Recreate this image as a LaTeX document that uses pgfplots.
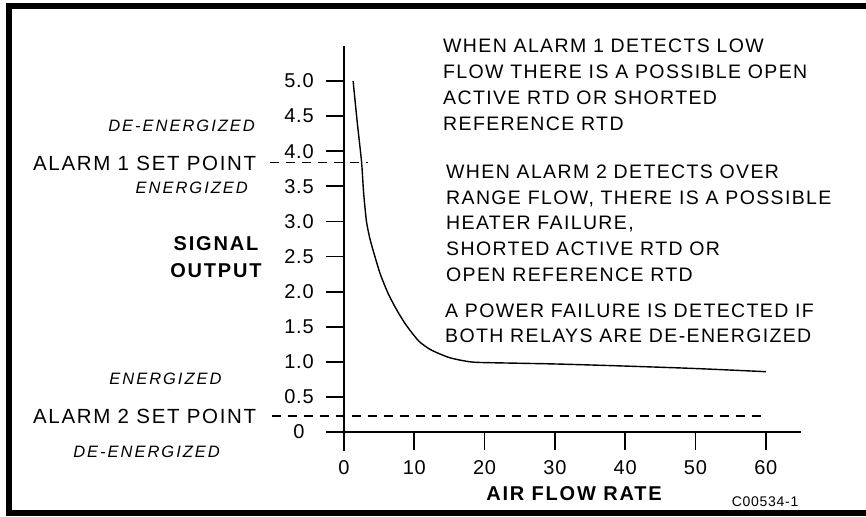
\documentclass[border=0pt]{standalone}
\usepackage{pgfplots}
\pgfplotsset{compat=1.18}
\usepackage{fontspec}
\setmainfont{Liberation Sans}
\newfontfamily\rgf[LetterSpace=7]{Liberation Sans}
\newfontfamily\alf[LetterSpace=8]{Liberation Sans}
\newfontfamily\itf[LetterSpace=12]{Liberation Sans}
\newfontfamily\bdf[LetterSpace=9]{Liberation Sans}
\newfontfamily\tkf[LetterSpace=4]{Liberation Sans}
\newfontfamily\smf[LetterSpace=5]{Liberation Sans}
\newcommand\RG{\rgf\fontsize{19.5}{24}\selectfont}
\newcommand\AL{\alf\fontsize{20.5}{24}\selectfont}
\newcommand\IT{\itf\itshape\fontsize{16.5}{20}\selectfont}
\newcommand\BD{\bdf\bfseries\fontsize{20}{24}\selectfont}
\newcommand\TK{\tkf\fontsize{20}{24}\selectfont}
\newcommand\SM{\smf\fontsize{14}{16}\selectfont}
\begin{document}
\begin{tikzpicture}
\begin{axis}[
  at={(327.1pt,-451pt)}, anchor=south west,
  x=7.03pt, y=70.2pt,
  xmin=-2.4, xmax=65, ymin=-0.27, ymax=5.5,
  axis lines=middle, axis line style={-, line width=1.7pt},
  xtick={0,10,20,30,40,50,60},
  ytick={0,0.5,1,1.5,2,2.5,3,3.5,4,4.5,5},
  xticklabels={0,10,20,30,40,50,60},
  yticklabels={0,0.5,1.0,1.5,2.0,2.5,3.0,3.5,4.0,4.5,5.0},
  tick align=outside, major tick length=18pt,
  tick style={line width=1.7pt, black},
  hide obscured x ticks=false, hide obscured y ticks=false,
  ticklabel style={font=\TK, inner sep=0pt},
  yticklabel style={anchor=center, xshift=-27pt},
  xticklabel style={anchor=center, yshift=-18pt},
  clip=false,
]
\addplot[black, line width=1.4pt, smooth, tension=0.4] coordinates {
(1.3,5.0) (1.9,4.4) (2.5,3.85) (2.8,3.4) (3.2,3.0) (3.7,2.75) (4.4,2.5)
(5.2,2.24) (6.3,1.97) (7.5,1.74) (8.8,1.53) (10.6,1.30) (12.2,1.18)
(13.7,1.11) (15.0,1.06) (16.5,1.025) (18,1.0) (19.8,0.99) (30,0.97)
(40,0.94) (50,0.905) (60,0.86)};
\addplot[black, line width=1.3pt, dash pattern=on 9pt off 7pt] coordinates {(-10.5,3.84) (3.4,3.84)};
\addplot[black, line width=1.3pt, dash pattern=on 9pt off 7pt] coordinates {(-10.2,0.23) (60,0.23)};
\end{axis}
% frame
\draw[line width=6pt] (9pt,-6pt) -- (880pt,-6pt);
\draw[line width=6pt] (9pt,-3pt) -- (9pt,-513pt) -- (880pt,-513pt);
% left labels
\node[anchor=base east, inner sep=0pt, font=\IT] at (255pt,-131pt) {DE-ENERGIZED};
\node[anchor=base west, inner sep=0pt, font=\AL] at (33pt,-170pt) {ALARM 1 SET POINT};
\node[anchor=base east, inner sep=0pt, font=\IT] at (248pt,-193pt) {ENERGIZED};
\node[anchor=base, inner sep=0pt, font=\BD] at (216pt,-250.8pt) {SIGNAL};
\node[anchor=base, inner sep=0pt, font=\BD] at (216pt,-277.5pt) {OUTPUT};
\node[anchor=base east, inner sep=0pt, font=\IT] at (221.7pt,-384pt) {ENERGIZED};
\node[anchor=base west, inner sep=0pt, font=\AL] at (33pt,-423.5pt) {ALARM 2 SET POINT};
\node[anchor=base east, inner sep=0pt, font=\IT] at (220pt,-457pt) {DE-ENERGIZED};
% bottom labels
\node[anchor=base, inner sep=0pt, font=\BD] at (574pt,-500.5pt) {AIR FLOW RATE};
\node[anchor=base west, inner sep=0pt, font=\SM] at (731.7pt,-506.7pt) {C00534-1};
% right text
\node[anchor=base west, inner sep=0pt, font=\RG] at (443pt,-52.5pt) {WHEN ALARM 1 DETECTS LOW};
\node[anchor=base west, inner sep=0pt, font=\RG] at (443pt,-78.5pt) {FLOW THERE IS A POSSIBLE OPEN};
\node[anchor=base west, inner sep=0pt, font=\RG] at (443pt,-104.5pt) {ACTIVE RTD OR SHORTED};
\node[anchor=base west, inner sep=0pt, font=\RG] at (443pt,-130.5pt) {REFERENCE RTD};
\node[anchor=base west, inner sep=0pt, font=\RG] at (446pt,-178.7pt) {WHEN ALARM 2 DETECTS OVER};
\node[anchor=base west, inner sep=0pt, font=\RG] at (446pt,-204.7pt) {RANGE FLOW, THERE IS A POSSIBLE};
\node[anchor=base west, inner sep=0pt, font=\RG] at (446pt,-229.7pt) {HEATER FAILURE,};
\node[anchor=base west, inner sep=0pt, font=\RG] at (446pt,-255.7pt) {SHORTED ACTIVE RTD OR};
\node[anchor=base west, inner sep=0pt, font=\RG] at (446pt,-281.7pt) {OPEN REFERENCE RTD};
\node[anchor=base west, inner sep=0pt, font=\RG] at (445pt,-317.7pt) {A POWER FAILURE IS DETECTED IF};
\node[anchor=base west, inner sep=0pt, font=\RG] at (445pt,-342.7pt) {BOTH RELAYS ARE DE-ENERGIZED};
\pgfresetboundingbox
\path[use as bounding box] (0pt,0pt) rectangle (866pt,-516pt);
\end{tikzpicture}
\end{document}
